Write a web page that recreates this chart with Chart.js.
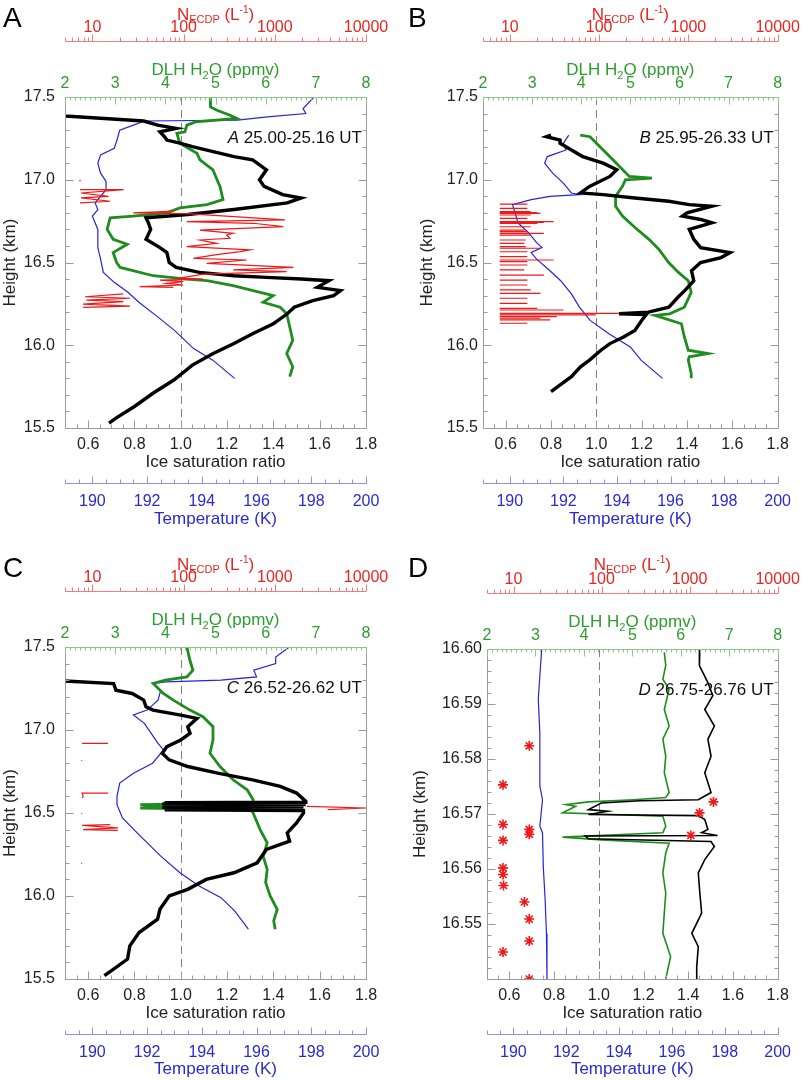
<!DOCTYPE html>
<html>
<head>
<meta charset="UTF-8">
<title>Ice saturation profiles</title>
<script src="https://cdn.jsdelivr.net/npm/chart.js@4.4.1/dist/chart.umd.min.js"></script>
<style>
  body { margin: 0; background: #fff; }
  .wrap { position: relative; width: 810px; height: 1080px; }
  canvas { position: absolute; }
</style>
</head>
<body>
<div class="wrap">
  <canvas id="pA" width="405" height="530" style="left:0;top:0"></canvas>
  <canvas id="pB" width="405" height="530" style="left:405px;top:0"></canvas>
  <canvas id="pC" width="405" height="530" style="left:0;top:550px"></canvas>
  <canvas id="pD" width="405" height="530" style="left:405px;top:550px"></canvas>
</div>
<script>
// tick labels
const heightTicksABC = [15.5, 16.0, 16.5, 17.0, 17.5];
const heightTicksD = [16.55, 16.56, 16.57, 16.58, 16.59, 16.60];
const ratioTicks = [0.6, 0.8, 1.0, 1.2, 1.4, 1.6, 1.8];
const tempTicks = [190, 192, 194, 196, 198, 200];
const h2oTicks = [2, 3, 4, 5, 6, 7, 8];
const nTicks = [10, 100, 1000, 10000];

// panel A, 25.00-25.16 UT
const aIceH = [17.385, 17.355, 17.33, 17.31, 17.29, 17.26, 17.24, 17.22, 17.20, 17.17, 17.14, 17.12, 17.10, 17.06, 17.00, 16.96, 16.91, 16.89, 16.86, 16.82, 16.79, 16.77, 16.74, 16.70, 16.64, 16.59, 16.56, 16.50, 16.47, 16.44, 16.42, 16.41, 16.40, 16.39, 16.35, 16.33, 16.30, 16.27, 16.23, 16.19, 16.13, 16.07, 16.01, 15.95, 15.88, 15.79, 15.71, 15.63, 15.56, 15.53];
const aIce = [0.50, 0.84, 0.90, 0.98, 0.91, 0.93, 0.94, 1.00, 1.05, 1.14, 1.23, 1.31, 1.33, 1.37, 1.34, 1.36, 1.44, 1.52, 1.46, 1.23, 1.03, 0.85, 0.86, 0.87, 0.85, 0.91, 0.94, 0.95, 0.98, 1.08, 1.23, 1.37, 1.52, 1.64, 1.59, 1.69, 1.66, 1.57, 1.49, 1.46, 1.40, 1.31, 1.23, 1.14, 1.05, 0.97, 0.88, 0.80, 0.72, 0.69];
const aH2oH = [17.50, 17.44, 17.42, 17.39, 17.37, 17.35, 17.33, 17.29, 17.28, 17.22, 17.16, 17.12, 17.06, 17.00, 16.96, 16.88, 16.85, 16.83, 16.80, 16.78, 16.77, 16.70, 16.64, 16.61, 16.56, 16.50, 16.47, 16.42, 16.40, 16.39, 16.36, 16.33, 16.30, 16.26, 16.23, 16.19, 16.11, 16.03, 15.95, 15.87, 15.81];
const aH2o = [4.90, 4.90, 5.03, 5.29, 5.43, 4.60, 4.43, 4.39, 4.23, 4.29, 4.63, 4.69, 4.95, 5.03, 5.09, 5.15, 4.83, 4.29, 4.03, 3.36, 2.90, 2.84, 2.96, 3.24, 2.96, 3.03, 3.10, 3.76, 4.43, 4.83, 5.35, 5.75, 6.15, 5.95, 6.29, 6.42, 6.48, 6.54, 6.42, 6.54, 6.48];
const aTempH = [17.50, 17.43, 17.40, 17.38, 17.36, 17.355, 17.33, 17.30, 17.24, 17.19, 17.15, 17.10, 17.04, 16.99, 16.94, 16.90, 16.86, 16.82, 16.78, 16.70, 16.59, 16.52, 16.44, 16.38, 16.32, 16.26, 16.17, 16.09, 15.98, 15.91, 15.80];
const aTemp = [198.1, 197.7, 197.8, 196.4, 195.3, 191.9, 191.5, 191.0, 190.9, 190.8, 190.3, 190.2, 190.3, 190.5, 190.5, 190.3, 190.1, 190.2, 190.0, 190.2, 190.2, 190.3, 190.4, 190.8, 191.3, 191.7, 192.4, 193.0, 193.7, 194.4, 195.2];
const aNH = [17.00, 16.99, null, 16.94, 16.94, 16.92, 16.90, 16.89, 16.87, 16.86, null, 16.81, 16.80, 16.795, 16.757, 16.747, 16.737, 16.717, 16.696, 16.676, 16.666, 16.646, 16.636, 16.616, 16.596, 16.576, 16.566, 16.545, 16.525, 16.515, 16.495, 16.471, 16.455, 16.445, 16.43, 16.405, 16.40, 16.394, 16.385, 16.374, 16.364, 16.354, 16.35, null, 16.31, 16.293, 16.284, 16.273, 16.263, 16.249, 16.237, 16.229];
const aN = [7.3, 7.3, null, 7.3, 22, 7.5, 15, 7.5, 15.6, 7.3, null, 77, 28, 108, 1290, 108, 580, 1240, 151, 350, 296, 322, 151, 230, 108, 534, 415, 211, 128, 491, 179, 1600, 350, 1350, 164, 91, 164, 55, 99, 65, 99, 33, 77, null, 21.8, 8.3, 25.8, 8.6, 21.8, 7.9, 25.8, 7.9];

// panel B, 25.95-26.33 UT
const bIceH = [17.27, 17.26, 17.24, 17.22, 17.18, 17.14, 17.10, 17.06, 17.02, 16.96, 16.92, 16.91, 16.89, 16.87, 16.85, 16.84, 16.80, 16.78, 16.76, 16.74, 16.70, 16.64, 16.59, 16.56, 16.53, 16.50, 16.45, 16.39, 16.33, 16.29, 16.23, 16.20, 16.19, 16.185, 16.15, 16.09, 16.05, 16.01, 15.97, 15.91, 15.87, 15.81, 15.75, 15.72];
const bIce = [0.80, 0.78, 0.84, 0.84, 0.89, 0.94, 1.03, 1.09, 1.06, 0.97, 0.93, 1.03, 1.17, 1.32, 1.41, 1.51, 1.40, 1.38, 1.46, 1.51, 1.41, 1.43, 1.46, 1.59, 1.55, 1.46, 1.42, 1.43, 1.39, 1.36, 1.32, 1.23, 1.10, 1.22, 1.20, 1.17, 1.12, 1.06, 1.02, 0.97, 0.93, 0.89, 0.83, 0.80];
const bH2oH = [17.27, 17.26, 17.20, 17.14, 17.08, 17.02, 17.01, 17.00, 16.96, 16.90, 16.84, 16.78, 16.71, 16.64, 16.58, 16.50, 16.44, 16.39, 16.32, 16.23, 16.19, 16.18, 16.13, 16.05, 15.97, 15.95, 15.93, 15.91, 15.83, 15.80];
const bH2o = [3.98, 4.18, 4.38, 4.58, 4.78, 4.98, 5.44, 4.90, 4.84, 4.70, 4.70, 4.84, 5.10, 5.38, 5.58, 5.78, 5.98, 6.18, 6.24, 6.10, 5.80, 5.50, 6.04, 6.10, 6.18, 6.58, 6.20, 6.18, 6.24, 6.24];
const bTempH = [17.27, 17.22, 17.18, 17.14, 17.10, 17.04, 16.98, 16.92, 16.91, 16.90, 16.88, 16.85, 16.80, 16.74, 16.68, 16.62, 16.59, 16.56, 16.52, 16.45, 16.39, 16.31, 16.23, 16.15, 16.07, 15.99, 15.91, 15.80];
const bTemp = [192.2, 192.0, 192.1, 191.4, 191.3, 191.6, 192.0, 192.3, 192.6, 191.5, 190.8, 190.1, 190.2, 190.3, 190.7, 191.0, 191.2, 190.8, 191.0, 191.5, 191.9, 192.3, 192.6, 193.0, 193.7, 194.5, 194.9, 195.7];
// one horizontal stroke per height, strokes separated by gaps
const bNH = [16.853, 16.853, null, 16.827, 16.827, null, 16.807, 16.807, null, 16.802, 16.802, null, 16.797, 16.797, null,
  16.787, 16.787, null, 16.767, 16.767, null, 16.747, 16.747, null, 16.742, 16.742, null, 16.737, 16.737, null,
  16.716, 16.716, null, 16.696, 16.696, null, 16.686, 16.686, null, 16.676, 16.676, null, 16.666, 16.666, null,
  16.636, 16.636, null, 16.616, 16.616, null, 16.596, 16.596, null, 16.586, 16.586, null, 16.565, 16.565, null,
  16.535, 16.535, null, 16.515, 16.515, null, 16.505, 16.505, null, 16.485, 16.485, null, 16.455, 16.455, null,
  16.424, 16.424, null, 16.394, 16.394, null, 16.364, 16.364, null, 16.334, 16.334, null, 16.314, 16.314, null,
  16.284, 16.284, null, 16.253, 16.253, null, 16.223, 16.223, null, 16.213, 16.213, null, 16.193, 16.193, null,
  16.183, 16.183, null, 16.173, 16.173, null, 16.163, 16.163, null, 16.153, 16.153, null, 16.133, 16.133];
const bN = [7.7, 15.7, null, 7.7, 15.7, null, 7.7, 17.1, null, 7.7, 20.3, null, 7.7, 22, null,
  7.7, 17.1, null, 7.7, 15.7, null, 7.7, 30.9, null, 7.7, 24, null, 7.7, 20.3, null,
  7.7, 17.1, null, 7.7, 14.5, null, 7.7, 15.7, null, 7.7, 24, null, 7.7, 17.1, null,
  7.7, 15.1, null, 7.7, 14.5, null, 7.7, 15.1, null, 7.7, 22, null, 7.7, 15.7, null,
  7.7, 15.7, null, 7.7, 30.9, null, 7.7, 15.7, null, 7.7, 15.7, null, 7.7, 14.5, null,
  7.7, 24, null, 7.7, 15.7, null, 7.7, 15.7, null, 7.7, 17.1, null, 7.7, 22, null,
  7.7, 15.7, null, 7.7, 15.7, null, 7.7, 20.3, null, 7.7, 39.8, null, 7.7, 167, null,
  7.7, 92, null, 7.7, 33.6, null, 7.7, 22, null, 7.7, 28.4, null, 7.7, 15.7];

// panel C, 26.52-26.62 UT
const cIceH = [17.295, 17.28, 17.24, 17.22, 17.18, 17.14, 17.12, 17.09, 17.07, 17.02, 16.98, 16.94, 16.90, 16.86, 16.82, 16.78, 16.74, 16.70, 16.66, 16.62, 16.57, 16.565, 16.562, 16.558, 16.555, 16.551, 16.548, 16.544, 16.541, 16.537, 16.534, 16.530, 16.527, 16.524, 16.520, 16.515, 16.50, 16.44, 16.38, 16.33, 16.28, 16.20, 16.14, 16.10, 16.04, 16.00, 15.92, 15.86, 15.78, 15.70, 15.62, 15.56, 15.52];
const cIce = [0.50, 0.71, 0.72, 0.79, 0.84, 0.85, 0.88, 1.00, 1.07, 1.03, 1.04, 1.00, 0.94, 0.92, 0.95, 1.03, 1.16, 1.31, 1.43, 1.50, 1.54, 1.54, 0.93, 1.53, 0.92, 1.54, 0.93, 1.52, 0.93, 1.53, 0.92, 1.53, 0.93, 1.52, 0.93, 1.53, 1.53, 1.50, 1.46, 1.47, 1.37, 1.33, 1.23, 1.11, 1.03, 0.95, 0.91, 0.90, 0.82, 0.78, 0.77, 0.71, 0.67];
const cH2oH = [17.50, 17.42, 17.36, 17.32, 17.30, 17.28, 17.22, 17.18, 17.12, 17.08, 17.02, 16.94, 16.86, 16.78, 16.70, 16.64, 16.58, 16.56, 16.55, 16.545, 16.54, 16.535, 16.53, 16.52, 16.50, 16.40, 16.32, 16.24, 16.16, 16.08, 16.00, 15.92, 15.85, 15.80];
const cH2o = [4.43, 4.49, 4.55, 4.43, 4.00, 3.76, 3.96, 4.16, 4.49, 4.75, 4.95, 4.95, 4.89, 5.09, 5.35, 5.63, 5.75, 5.75, 3.50, 4.10, 3.55, 4.00, 3.50, 5.70, 5.75, 5.89, 6.03, 5.95, 6.03, 6.00, 6.09, 6.23, 6.16, 6.19];
const cTempH = [17.50, 17.44, 17.40, 17.36, 17.32, 17.30, 17.29, 17.28, 17.24, 17.18, 17.12, 17.09, 17.04, 16.92, 16.88, 16.80, 16.74, 16.68, 16.60, 16.55, 16.47, 16.37, 16.24, 16.14, 16.06, 15.99, 15.91, 15.80];
const cTemp = [197.2, 196.7, 196.7, 195.9, 196.0, 194.7, 192.7, 192.2, 192.5, 192.4, 192.0, 191.5, 191.9, 192.4, 192.6, 192.2, 191.5, 191.0, 190.9, 190.9, 191.1, 191.7, 192.5, 193.2, 193.9, 194.7, 195.2, 195.7];
const cNH = [16.92, 16.92, null, 16.82, 16.815, null, 16.62, 16.62, 16.60, 16.59, null, 16.50, 16.495, null, 16.43, 16.425, 16.41, 16.40, 16.395, null, 16.20, 16.195, null, 16.54, 16.53, 16.52];
const cN = [7.7, 14.8, null, 7.6, 7.6, null, 14.8, 7.7, 7.9, 7.7, null, 7.6, 7.6, null, 15.6, 7.7, 19, 7.9, 19, null, 7.6, 7.6, null, 2250, 10000, 3800];

// panel D, 26.75-26.76 UT
const dIceH = [16.600, 16.597, 16.5939, 16.5915, 16.589, 16.586, 16.5836, 16.5805, 16.5775, 16.5739, 16.5726, 16.5724, 16.572, 16.5708, 16.5705, 16.5699, 16.5697, 16.569, 16.5672, 16.5666, 16.5661, 16.566, 16.5655, 16.565, 16.5641, 16.5617, 16.5593, 16.5556, 16.552, 16.5483, 16.5459, 16.5422, 16.540];
const dIce = [1.452, 1.45, 1.488, 1.51, 1.474, 1.517, 1.488, 1.502, 1.474, 1.502, 1.445, 1.185, 1.011, 0.954, 1.04, 0.954, 1.445, 1.474, 1.488, 1.46, 1.531, 0.939, 0.954, 1.502, 1.517, 1.474, 1.445, 1.452, 1.46, 1.416, 1.445, 1.438, 1.438];
const dH2oH = [16.5994, 16.597, 16.5945, 16.5927, 16.589, 16.586, 16.5836, 16.5805, 16.5775, 16.5739, 16.573, 16.5726, 16.5722, 16.5717, 16.5714, 16.5702, 16.5696, 16.5678, 16.5666, 16.5658, 16.5653, 16.5647, 16.5629, 16.5593, 16.5556, 16.552, 16.5483, 16.5441, 16.540];
const dH2o = [5.66, 5.69, 5.63, 5.76, 5.66, 5.76, 5.63, 5.69, 5.66, 5.76, 5.69, 5.03, 4.09, 3.63, 3.83, 3.56, 5.63, 5.69, 5.63, 3.56, 4.36, 5.76, 5.69, 5.63, 5.69, 5.66, 5.63, 5.79, 5.69];
const dTempH = [16.600, 16.5909, 16.5848, 16.5751, 16.5726, 16.5678, 16.5666, 16.5605, 16.5544, 16.5483, 16.540];
const dTemp = [191.07, 190.94, 191.0, 191.0, 191.1, 191.0, 191.1, 191.13, 191.2, 191.25, 191.27];
const dNH = [16.5824, 16.5753, 16.5722, 16.5702, 16.5681, 16.5672, 16.5663, 16.5661, 16.5652, 16.5602, 16.559, 16.557, 16.554, 16.5509, 16.5469, 16.5449, 16.540];
const dN = [15.1, 7.6, 1865, 1297, 7.6, 15.1, 15.1, 1033, 7.6, 7.6, 7.6, 7.7, 13.3, 15.1, 15.1, 7.6, 15.1];

const FONT = "'Liberation Sans', Arial, Helvetica, sans-serif";
const RED = '#f01818', RED_TXT = '#e8251f', RED_AX = '#f07c7c';
const GREEN = '#1f8c1f', GREEN_TXT = '#2f9c2f', GREEN_AX = '#88c888';
const BLUE = '#2424d8', BLUE_TXT = '#2b2bcc', BLUE_AX = '#8f8fe6';
const FRAME = '#9b9b9b';

Chart.defaults.font.family = FONT;
Chart.defaults.font.size = 16;
Chart.defaults.color = '#222';

const pts = (hs, vs) => hs.map((h, i) => ({x: vs[i], y: h}));
const fixTicks = list => axis => { axis.ticks = list.map(v => ({value: v})); };

function steps(lo, hi, step) {
  const out = [];
  for (let k = Math.ceil(lo / step - 1e-6); k * step <= hi + 1e-9; k++) out.push(k * step);
  return out;
}
const isMult = (v, m) => Math.abs(v / m - Math.round(v / m)) < 1e-4;

function drawParts(ctx, cx, baseY, parts, color) {
  let total = 0;
  for (const p of parts) {
    ctx.font = p.size + 'px ' + FONT;
    p.w = ctx.measureText(p.t).width;
    total += p.w;
  }
  let x = cx - total / 2;
  ctx.fillStyle = color;
  ctx.textAlign = 'left';
  ctx.textBaseline = 'alphabetic';
  for (const p of parts) {
    ctx.font = p.size + 'px ' + FONT;
    ctx.fillText(p.t, x, baseY + p.dy);
    x += p.w;
  }
}

// frame, extra axes, titles with sub/superscripts, notes
const decoration = {
  id: 'decoration',
  beforeDatasetsDraw(chart) {
    const {ctx, chartArea: a, scales: s} = chart;
    const px = Math.round(s.x.getPixelForValue(1.0)) + 0.5;
    ctx.save();
    ctx.strokeStyle = '#808080';
    ctx.lineWidth = 1;
    ctx.setLineDash([8, 5]);
    ctx.beginPath();
    ctx.moveTo(px, a.top);
    ctx.lineTo(px, a.bottom);
    ctx.stroke();
    ctx.restore();
  },
  afterDraw(chart, args, o) {
    const {ctx, chartArea: a, scales: s} = chart;
    const L = Math.round(a.left) + 0.5, R = Math.round(a.right) + 0.5;
    const T = Math.round(a.top) + 0.5, B = Math.round(a.bottom) + 0.5;
    ctx.save();
    ctx.lineWidth = 1;

    ctx.strokeStyle = FRAME;
    ctx.beginPath();
    ctx.moveTo(L, T); ctx.lineTo(L, B); ctx.lineTo(R, B); ctx.lineTo(R, T);
    for (const v of steps(s.y.min, s.y.max, o.yMinor)) {
      const y = Math.round(s.y.getPixelForValue(v)) + 0.5;
      const len = isMult(v, o.yMajor) ? 8 : 4;
      ctx.moveTo(L, y); ctx.lineTo(L + len, y);
      ctx.moveTo(R, y); ctx.lineTo(R - len, y);
    }
    for (const v of steps(0.5, 1.8, 0.05)) {
      const x = Math.round(s.x.getPixelForValue(v)) + 0.5;
      const len = isMult(v, 0.2) ? 8 : 4;
      ctx.moveTo(x, B); ctx.lineTo(x, B - len);
    }
    ctx.stroke();

    // H2O axis on the top edge
    ctx.strokeStyle = GREEN_AX;
    ctx.beginPath();
    ctx.moveTo(L, T); ctx.lineTo(R, T);
    for (const v of steps(2, 8, 0.1)) {
      const x = Math.round(s.xw.getPixelForValue(v)) + 0.5;
      const len = isMult(v, 1) ? 7 : 3;
      ctx.moveTo(x, T); ctx.lineTo(x, T + len);
    }
    ctx.stroke();

    // N axis
    const yN = Math.round(s.xn.bottom) + 0.5;
    ctx.strokeStyle = RED_AX;
    ctx.beginPath();
    ctx.moveTo(L, yN); ctx.lineTo(R, yN);
    for (let d = 1; d <= 10000; d *= 10) {
      for (let m = 1; m <= 9; m++) {
        const v = m * d;
        if (v < 5 || v > 10000) continue;
        const x = Math.round(s.xn.getPixelForValue(v)) + 0.5;
        ctx.moveTo(x, yN); ctx.lineTo(x, yN - (m === 1 ? 7 : 4));
      }
    }
    ctx.stroke();

    // temperature axis
    const yT = Math.round(s.xt.top + 10) + 0.5;
    ctx.strokeStyle = BLUE_AX;
    ctx.beginPath();
    ctx.moveTo(L, yT); ctx.lineTo(R, yT);
    for (const v of steps(189, 200, 0.5)) {
      const x = Math.round(s.xt.getPixelForValue(v)) + 0.5;
      ctx.moveTo(x, yT); ctx.lineTo(x, yT - (isMult(v, 2) ? 7 : 4));
    }
    ctx.stroke();

    const cx = (a.left + a.right) / 2;
    drawParts(ctx, cx, s.xn.top + 20, [
      {t: 'N', size: 17, dy: 0}, {t: 'ECDP', size: 11, dy: 3},
      {t: ' (L', size: 17, dy: 0}, {t: '-1', size: 10, dy: -7}, {t: ')', size: 17, dy: 0}
    ], RED_TXT);
    drawParts(ctx, cx, a.top - 22, [
      {t: 'DLH H', size: 17, dy: 0}, {t: '2', size: 11, dy: 4}, {t: 'O (ppmv)', size: 17, dy: 0}
    ], GREEN_TXT);

    // run label inside the plot
    ctx.fillStyle = '#111';
    ctx.textBaseline = 'middle';
    ctx.textAlign = 'left';
    ctx.font = '17px ' + FONT;
    const rest = ' ' + o.note;
    const wRest = ctx.measureText(rest).width;
    ctx.font = 'italic 17px ' + FONT;
    const wL = ctx.measureText(o.letter).width;
    const xr = a.right - 4, yc = a.top + 41;
    ctx.fillText(o.letter, xr - wRest - wL, yc);
    ctx.font = '17px ' + FONT;
    ctx.fillText(rest, xr - wRest, yc);

    // panel letter
    ctx.fillStyle = '#000';
    ctx.font = '28px ' + FONT;
    ctx.textBaseline = 'alphabetic';
    ctx.fillText(o.letter, 3, 27);
    ctx.restore();
  }
};

function makeScales(g) {
  const hidden = {display: false, drawTicks: false, tickLength: 0};
  const titleFont = {size: 17};
  return {
    y: {
      axis: 'y', position: 'left', bounds: 'data', min: g.ymin, max: g.ymax,
      afterBuildTicks: fixTicks(g.yTicks),
      afterFit: sc => { sc.width = g.left; },
      grid: hidden, border: {display: false},
      ticks: {padding: g.yPad, color: '#222', autoSkip: false, callback: v => v.toFixed(g.yDec)},
      title: {display: true, text: 'Height (km)', color: '#222', font: titleFont, padding: {top: g.tPad, bottom: 0}}
    },
    x: {
      axis: 'x', position: 'bottom', weight: 0, bounds: 'data', min: 0.5, max: 1.8,
      afterBuildTicks: fixTicks(ratioTicks),
      afterFit: sc => { sc.height = 45; },
      grid: hidden, border: {display: false},
      ticks: {padding: 7, color: '#222', autoSkip: false, maxRotation: 0, callback: v => v.toFixed(1)},
      title: {display: true, text: 'Ice saturation ratio', color: '#222', font: titleFont, padding: 0}
    },
    xt: {
      axis: 'x', position: 'bottom', weight: 1, bounds: 'data', min: 189, max: 200,
      afterBuildTicks: fixTicks(tempTicks),
      afterFit: sc => { sc.height = 530 - g.bottom - 45; },
      grid: hidden, border: {display: false},
      ticks: {padding: 19, color: BLUE_TXT, autoSkip: false, maxRotation: 0, callback: v => String(v)},
      title: {display: true, text: 'Temperature (K)', color: BLUE_TXT, font: titleFont, padding: 0}
    },
    xw: {
      axis: 'x', position: 'top', weight: 0, bounds: 'data', min: 2, max: 8,
      afterBuildTicks: fixTicks(h2oTicks),
      afterFit: sc => { sc.height = 56; },
      grid: hidden, border: {display: false},
      ticks: {padding: 4, color: GREEN_TXT, autoSkip: false, maxRotation: 0, callback: v => String(v)}
    },
    xn: {
      axis: 'x', type: 'logarithmic', position: 'top', weight: 1, bounds: 'data', min: 5, max: 10000,
      afterBuildTicks: fixTicks(nTicks),
      afterFit: sc => { sc.height = g.top - 56; },
      grid: hidden, border: {display: false},
      ticks: {padding: 4, color: RED_TXT, autoSkip: false, maxRotation: 0, callback: v => String(v)}
    }
  };
}

function lineSet(data, axisId, color, width) {
  return {data, xAxisID: axisId, yAxisID: 'y', showLine: true, borderColor: color,
    backgroundColor: color, borderWidth: width, pointRadius: 0, spanGaps: false, tension: 0};
}

const panels = [
  {id: 'pA', letter: 'A', note: '25.00-25.16 UT',
   g: {left: 65, right: 366, top: 97, bottom: 428, ymin: 15.5, ymax: 17.5, yTicks: heightTicksABC, yDec: 1, yPad: 10, tPad: 0},
   yMinor: 0.1, yMajor: 0.5,
   ice: pts(aIceH, aIce), h2o: pts(aH2oH, aH2o), temp: pts(aTempH, aTemp), n: pts(aNH, aN), stars: false, w: [3.4, 2.8]},
  {id: 'pB', letter: 'B', note: '25.95-26.33 UT',
   g: {left: 78, right: 378, top: 97, bottom: 428, ymin: 15.5, ymax: 17.5, yTicks: heightTicksABC, yDec: 1, yPad: 5, tPad: 12},
   yMinor: 0.1, yMajor: 0.5,
   ice: pts(bIceH, bIce), h2o: pts(bH2oH, bH2o), temp: pts(bTempH, bTemp), n: pts(bNH, bN), stars: false, w: [3.4, 2.8]},
  {id: 'pC', letter: 'C', note: '26.52-26.62 UT',
   g: {left: 65, right: 366, top: 97, bottom: 429, ymin: 15.5, ymax: 17.5, yTicks: heightTicksABC, yDec: 1, yPad: 10, tPad: 0},
   yMinor: 0.1, yMajor: 0.5,
   ice: pts(cIceH, cIce), h2o: pts(cH2oH, cH2o), temp: pts(cTempH, cTemp), n: pts(cNH, cN), stars: false, w: [3.4, 2.8]},
  {id: 'pD', letter: 'D', note: '26.75-26.76 UT',
   g: {left: 82, right: 382, top: 99, bottom: 429, ymin: 16.54, ymax: 16.60, yTicks: heightTicksD, yDec: 2, yPad: 5, tPad: 5},
   yMinor: 0.002, yMajor: 0.01,
   ice: pts(dIceH, dIce), h2o: pts(dH2oH, dH2o), temp: pts(dTempH, dTemp), n: pts(dNH, dN), stars: true, w: [1.6, 1.6]}
];

for (const p of panels) {
  const redSet = p.stars
    ? {data: p.n, xAxisID: 'xn', yAxisID: 'y', showLine: false, pointStyle: 'star', pointRadius: 5,
       borderColor: RED, backgroundColor: RED, borderWidth: 1.6}
    : lineSet(p.n, 'xn', RED, 1.2);
  new Chart(document.getElementById(p.id), {
    type: 'scatter',
    data: {
      datasets: [
        redSet,
        lineSet(p.ice, 'x', '#000', p.w[0]),
        lineSet(p.h2o, 'xw', GREEN, p.w[1]),
        lineSet(p.temp, 'xt', BLUE, 1.2)
      ]
    },
    options: {
      responsive: false,
      animation: false,
      devicePixelRatio: 1,
      events: [],
      layout: {padding: {left: 0, right: 405 - p.g.right, top: 0, bottom: 0}},
      scales: makeScales(p.g),
      plugins: {
        legend: {display: false},
        tooltip: {enabled: false},
        decoration: {letter: p.letter, note: p.note, yMinor: p.yMinor, yMajor: p.yMajor}
      }
    },
    plugins: [decoration]
  });
}
</script>
</body>
</html>
